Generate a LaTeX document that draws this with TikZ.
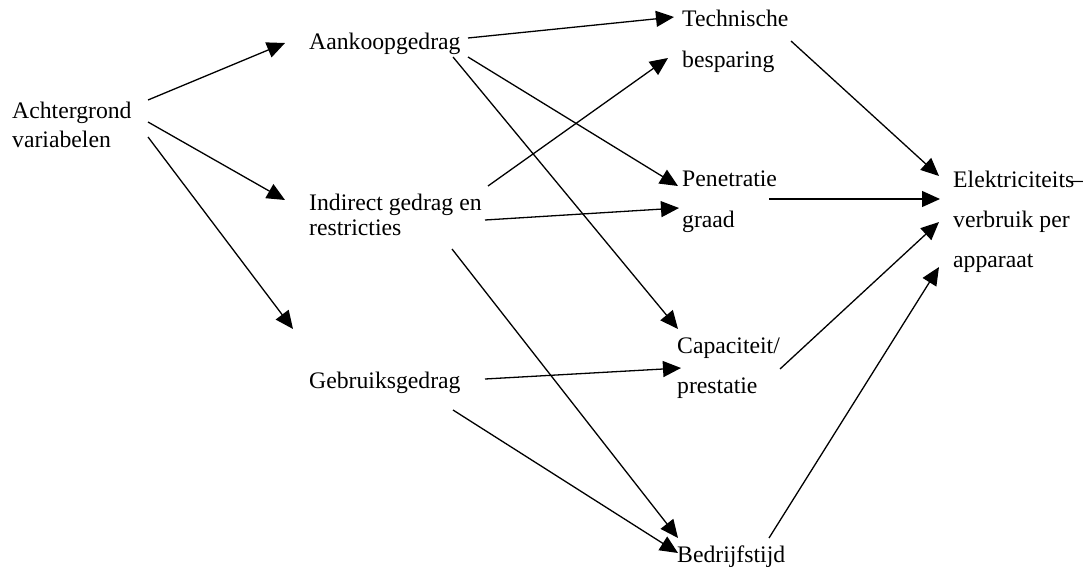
\documentclass[tikz,border=0pt]{standalone}
\usepackage{fontspec}
\setmainfont{Liberation Serif}
\usetikzlibrary{arrows.meta}
\begin{document}
\begin{tikzpicture}[x=1pt,y=-1pt,
  lbl/.style={anchor=base west,inner sep=0pt,font=\fontsize{23.7}{28}\selectfont},
  conn/.style={line width=1.3pt,-{Triangle[length=18pt,width=16pt]}}]
\useasboundingbox (0,0) rectangle (1083,567);
% texts
\node[lbl] (ach1) at (12,118) {Achtergrond};
\node[lbl] (ach2) at (12,147) {variabelen};
\node[lbl] (aan) at (309,50) {Aankoopgedrag};
\node[lbl] (ind1) at (309,210) {Indirect gedrag en};
\node[lbl] (ind2) at (309,235) {restricties};
\node[lbl] (geb) at (309,388) {Gebruiksgedrag};
\node[lbl] (tec1) at (682,27) {Technische};
\node[lbl] (tec2) at (682,68) {besparing};
\node[lbl] (pen1) at (682,186) {Penetratie};
\node[lbl] (pen2) at (682,227) {graad};
\node[lbl] (cap1) at (677,353) {Capaciteit/};
\node[lbl] (cap2) at (677,393) {prestatie};
\node[lbl] (bed) at (677,562) {Bedrijfstijd};
\node[lbl] (ele1) at (953,187) {Elektriciteits\kern-3pt--};
\node[lbl] (ele2) at (953,227) {verbruik per};
\node[lbl] (ele3) at (953,267) {apparaat};
% connector end points
\coordinate (a1) at (148,100); \coordinate (a1t) at (285,43);
\coordinate (a2) at (148,122); \coordinate (a2t) at (285,200);
\coordinate (a3) at (148,137); \coordinate (a3t) at (293,329);
\coordinate (b1) at (468,38);  \coordinate (b1t) at (674,17);
\coordinate (b2) at (468,57);  \coordinate (b2t) at (678,186);
\coordinate (b3) at (453,57);  \coordinate (b3t) at (678,329);
\coordinate (c1) at (488,186); \coordinate (c1t) at (668,58);
\coordinate (c2) at (485,220); \coordinate (c2t) at (679,208);
\coordinate (c3) at (452,249); \coordinate (c3t) at (678,538);
\coordinate (d1) at (485,379); \coordinate (d1t) at (681,368);
\coordinate (d2) at (453,410); \coordinate (d2t) at (678,553);
\coordinate (e1) at (791,41);  \coordinate (e1t) at (939,176);
\coordinate (e2) at (769,199); \coordinate (e2t) at (940,199);
\coordinate (e3) at (780,369); \coordinate (e3t) at (939,222);
\coordinate (e4) at (769,538); \coordinate (e4t) at (939,267);
% connectors
\foreach \s in {a1,a2,a3,b1,b2,b3,c1,c2,c3,d1,d2,e1,e2,e3,e4}
  \draw[conn] (\s) -- (\s t);
\end{tikzpicture}
\end{document}
